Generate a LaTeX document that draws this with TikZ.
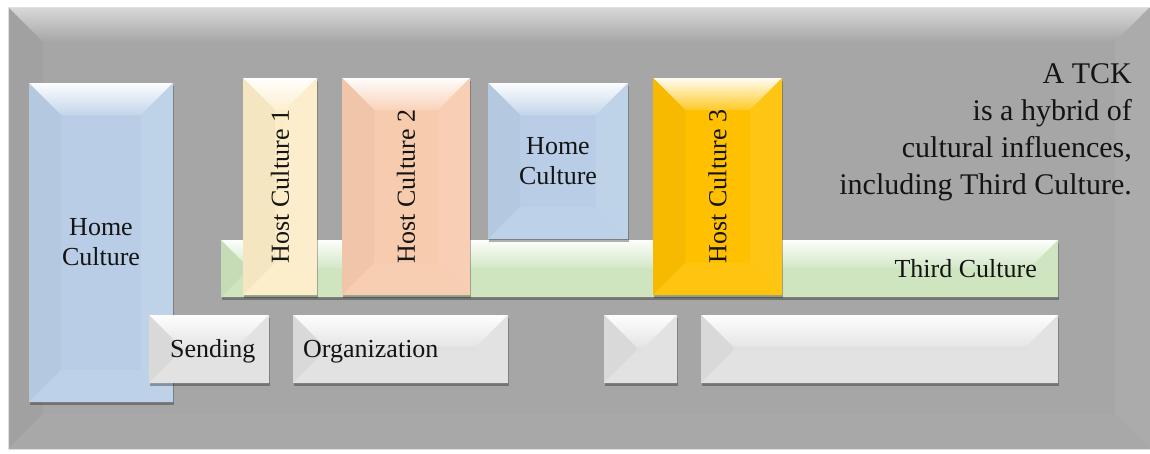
\documentclass[tikz,border=0pt]{standalone}
\usepackage{fontspec}
\setmainfont{Liberation Serif}
\usetikzlibrary{calc}
\definecolor{framegray}{RGB}{166,166,166}
\definecolor{homeblue}{RGB}{185,206,230}
\definecolor{hostcream}{RGB}{252,237,200}
\definecolor{hostpeach}{RGB}{247,203,174}
\definecolor{hostgold}{RGB}{255,192,0}
\definecolor{thirdgreen}{RGB}{203,227,188}
\definecolor{orgwhite}{RGB}{224,224,224}
\def\bevdepth{32}
\def\bevelbox[#1](#2,#3)(#4,#5){
	\pgfmathsetmacro\bd{min(\bevdepth,(#4-#2)/2,(#5-#3)/2)}
	\fill[black,opacity=0.3] (#2+1,#3+3) rectangle (#4+1,#5+3);
	\fill[#1] (#2,#3) rectangle (#4,#5);
	\shade[top color=#1!5!white, bottom color=#1!85!white] (#2,#3) -- (#4,#3) -- (#4-\bd,#3+\bd) -- (#2+\bd,#3+\bd) -- cycle;
	\fill[#1!97!black] (#2,#3) -- (#2+\bd,#3+\bd) -- (#2+\bd,#5-\bd) -- (#2,#5) -- cycle;
	\fill[#1!92!white] (#4,#3) -- (#4-\bd,#3+\bd) -- (#4-\bd,#5-\bd) -- (#4,#5) -- cycle;
	\fill[#1!94!white] (#2,#5) -- (#2+\bd,#5-\bd) -- (#4-\bd,#5-\bd) -- (#4,#5) -- cycle;
}
\tikzset{
	lbl/.style={font=\fontsize{26}{30}\selectfont, align=center, inner sep=0pt, text=black!92},
	note/.style={font=\fontsize{30}{37}\selectfont, align=right, inner sep=0pt, text=black!92}
}

\begin{document}
\begin{tikzpicture}[x=1pt,y=-1pt]
		%%%%% FRAME %%%%%
		\useasboundingbox (0,0) rectangle (1150,453);
		\fill[white] (0,0) rectangle (1150,453);
		
		\fill[framegray] (8,7) rectangle (1150,449);
		\shade[top color=black!15, bottom color=framegray] (8,7) -- (1150,7) -- (1115,42) -- (43,42) -- cycle;
		\fill[black!37] (8,7) -- (43,42) -- (43,414) -- (8,449) -- cycle;
		\fill[black!33] (1150,7) -- (1115,42) -- (1115,414) -- (1150,449) -- cycle;
		\fill[black!34] (8,449) -- (43,414) -- (1115,414) -- (1150,449) -- cycle;
		\draw[black!12, line width=1] (8,7) rectangle (1150,449);
		
		%%%%% BOXES %%%%%
		\bevelbox[homeblue](29,83)(173,402)
		\bevelbox[thirdgreen](221,240)(1058,297)
		\bevelbox[hostcream](243,78)(317,295)
		\bevelbox[hostpeach](342,78)(470,295)
		\bevelbox[homeblue](488,83)(628,239)
		\bevelbox[hostgold](653,78)(782,295)
		
		\bevelbox[orgwhite](149,315)(269,383)
		\bevelbox[orgwhite](293,315)(508,383)
		\bevelbox[orgwhite](604,315)(677,383)
		\bevelbox[orgwhite](701,315)(1058,383)
		
		%%%%% TEXT %%%%%
		\node[lbl] (home1) at (101,242.5) {Home\\Culture};
		\node[lbl, rotate=90] (host1) at (280,186.5) {Host Culture 1};
		\node[lbl, rotate=90] (host2) at (406,186.5) {Host Culture 2};
		\node[lbl] (home2) at (558,161) {Home\\Culture};
		\node[lbl, rotate=90] (host3) at (717.5,186.5) {Host Culture 3};
		\node[lbl, anchor=base east] (third) at (1037,277) {Third Culture};
		
		\node[lbl, anchor=base west] (sending) at (170,357) {Sending};
		\node[lbl, anchor=base west] (org) at (303,357) {Organization};
		
		\node[note, anchor=north east] (tck) at (1132,63) {A TCK\\is a hybrid of\\cultural influences,\\including Third Culture.};
	\end{tikzpicture}
\end{document}
